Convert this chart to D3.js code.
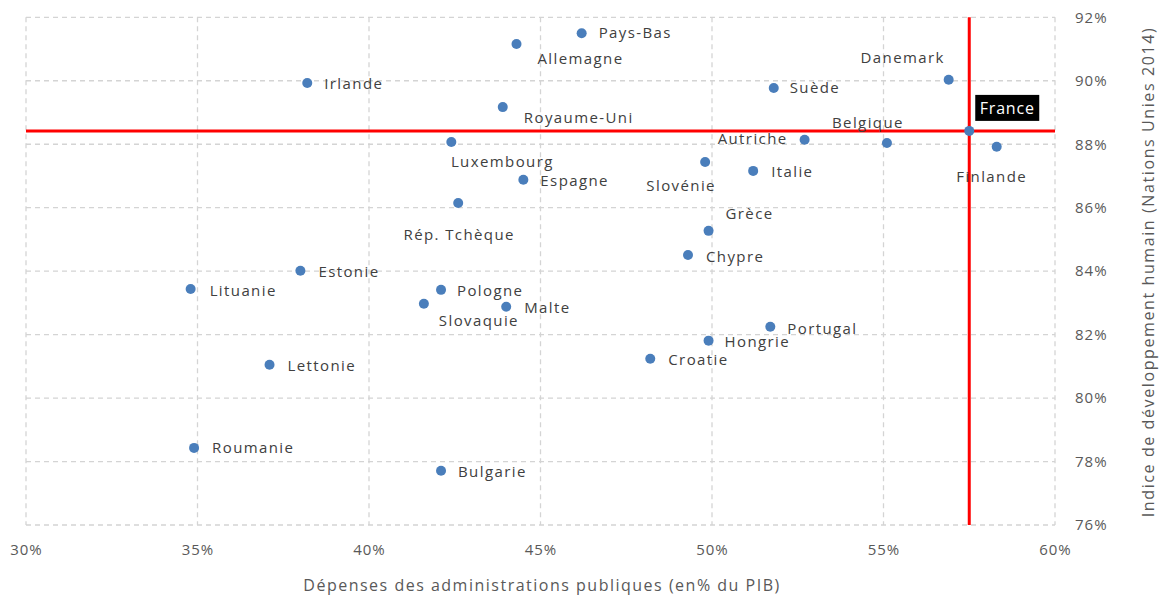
<!DOCTYPE html>
<html>
<head>
<meta charset="utf-8">
<script src="https://cdn.jsdelivr.net/npm/d3@7"></script>
<style>
  body { margin: 0; background: #fff; }
  text { font-family: "Open Sans", "Noto Sans", sans-serif; }
</style>
</head>
<body>
<script>
// data (x = dépenses publiques % PIB, y = IDH)
var countries = ["Pays-Bas", "Allemagne", "Irlande", "Royaume-Uni", "Luxembourg", "Espagne",
  "Rép. Tchèque", "Slovénie", "Italie", "Autriche", "Belgique", "Suède", "Danemark", "Finlande",
  "France", "Grèce", "Chypre", "Estonie", "Lituanie", "Pologne", "Slovaquie", "Malte", "Portugal",
  "Hongrie", "Croatie", "Lettonie", "Roumanie", "Bulgarie"];
var depenses = [46.2, 44.3, 38.2, 43.9, 42.4, 44.5,
  42.6, 49.8, 51.2, 52.7, 55.1, 51.8, 56.9, 58.3,
  57.5, 49.9, 49.3, 38.0, 34.8, 42.1, 41.6, 44.0, 51.7,
  49.9, 48.2, 37.1, 34.9, 42.1];
var idh = [91.5, 91.16, 89.93, 89.17, 88.07, 86.88,
  86.15, 87.44, 87.16, 88.14, 88.04, 89.77, 90.03, 87.92,
  88.42, 85.27, 84.51, 84.01, 83.44, 83.41, 82.97, 82.88, 82.25,
  81.81, 81.24, 81.05, 78.43, 77.71];
var xTicks = [30, 35, 40, 45, 50, 55, 60];
var yTicks = [76, 78, 80, 82, 84, 86, 88, 90, 92];
var highlight = "France";

var w = 1160, h = 600;
var svg = d3.select("body").append("svg").attr("width", w).attr("height", h);

var x = d3.scaleLinear().domain([30, 60]).range([26, 1055]);
var y = d3.scaleLinear().domain([76, 92]).range([525, 17.3]);

// grid (dashed, also forms the frame)
svg.append("g").selectAll("line").data(xTicks).enter().append("line")
  .attr("x1", d => x(d)).attr("x2", d => x(d))
  .attr("y1", y(92)).attr("y2", y(76))
  .attr("stroke", "#d4d4d4").attr("stroke-width", 1.3).attr("stroke-dasharray", "5,4");
svg.append("g").selectAll("line").data(yTicks).enter().append("line")
  .attr("x1", x(30)).attr("x2", x(60))
  .attr("y1", d => y(d)).attr("y2", d => y(d))
  .attr("stroke", "#d4d4d4").attr("stroke-width", 1.3).attr("stroke-dasharray", "5,4");

// axes labels
var xAxis = d3.axisBottom(x).tickValues(xTicks).tickFormat(d => d + "%").tickSize(0).tickPadding(19);
var gx = svg.append("g").attr("transform", "translate(0," + y(76) + ")").call(xAxis);
var yAxis = d3.axisRight(y).tickValues(yTicks).tickFormat(d => d + "%").tickSize(0).tickPadding(20);
var gy = svg.append("g").attr("transform", "translate(" + x(60) + ",0)").call(yAxis);
[gx, gy].forEach(function (g) {
  g.select(".domain").remove();
  g.selectAll("text").attr("fill", "#595959").style("font-size", "15px")
    .style("letter-spacing", "1px")
    .style("font-family", "'Open Sans', sans-serif");
});

svg.append("text").attr("x", 542).attr("y", 591).attr("text-anchor", "middle")
  .attr("fill", "#595959").style("font-size", "16px").style("letter-spacing", "1.5px")
  .text("Dépenses des administrations publiques (en% du PIB)");
svg.append("text").attr("transform", "translate(1154,272) rotate(-90)").attr("text-anchor", "middle")
  .attr("fill", "#595959").style("font-size", "16px").style("letter-spacing", "1.6px")
  .text("Indice de développement humain (Nations Unies 2014)");

// France reference lines
var fi = countries.indexOf(highlight);
svg.append("line").attr("x1", x(30)).attr("x2", x(60)).attr("y1", y(idh[fi])).attr("y2", y(idh[fi]))
  .attr("stroke", "#ff0000").attr("stroke-width", 3);
svg.append("line").attr("x1", x(depenses[fi])).attr("x2", x(depenses[fi])).attr("y1", y(92)).attr("y2", y(76))
  .attr("stroke", "#ff0000").attr("stroke-width", 3);

var pts = countries.map((c, i) => ({ name: c, x: depenses[i], y: idh[i] }));

// label placement: [anchor, dx, dy]
var lab = {
  "Pays-Bas": ["start", 17, 0], "Allemagne": ["middle", 64, 15], "Irlande": ["start", 17, 1],
  "Royaume-Uni": ["middle", 76, 11], "Luxembourg": ["middle", 51, 20], "Espagne": ["start", 17, 1],
  "Rép. Tchèque": ["middle", 1, 32], "Slovénie": ["middle", -24, 24], "Italie": ["start", 18, 1],
  "Autriche": ["end", -17, -1], "Belgique": ["middle", -19, -20], "Suède": ["start", 16, 0],
  "Danemark": ["middle", -46, -22], "Finlande": ["middle", -5, 30], "France": ["middle", 38, -22],
  "Grèce": ["middle", 41, -17], "Chypre": ["start", 18, 2], "Estonie": ["start", 18, 1],
  "Lituanie": ["start", 19, 2], "Pologne": ["start", 16, 1], "Slovaquie": ["middle", 55, 17],
  "Malte": ["start", 18, 1], "Portugal": ["start", 17, 2], "Hongrie": ["start", 16, 1],
  "Croatie": ["start", 18, 1], "Lettonie": ["start", 18, 1], "Roumanie": ["start", 18, 0],
  "Bulgarie": ["start", 17, 1]
};

svg.append("g").selectAll("circle").data(pts).enter().append("circle")
  .attr("cx", d => x(d.x)).attr("cy", d => y(d.y)).attr("r", 5)
  .attr("fill", "#4a7ebb");

// France box
svg.append("rect")
  .attr("x", x(depenses[fi]) + 6).attr("y", y(idh[fi]) - 36)
  .attr("width", 64).attr("height", 26).attr("fill", "#000");

svg.append("g").selectAll("text").data(pts).enter().append("text")
  .attr("x", d => x(d.x) + lab[d.name][1])
  .attr("y", d => y(d.y) + lab[d.name][2])
  .attr("dy", "0.35em")
  .attr("text-anchor", d => lab[d.name][0])
  .attr("fill", d => d.name === highlight ? "#fff" : "#404040")
  .style("font-size", d => d.name === highlight ? "16px" : "15px")
  .style("letter-spacing", d => d.name === highlight ? "0.8px" : "1.4px")
  .text(d => d.name);
</script>
</body>
</html>
